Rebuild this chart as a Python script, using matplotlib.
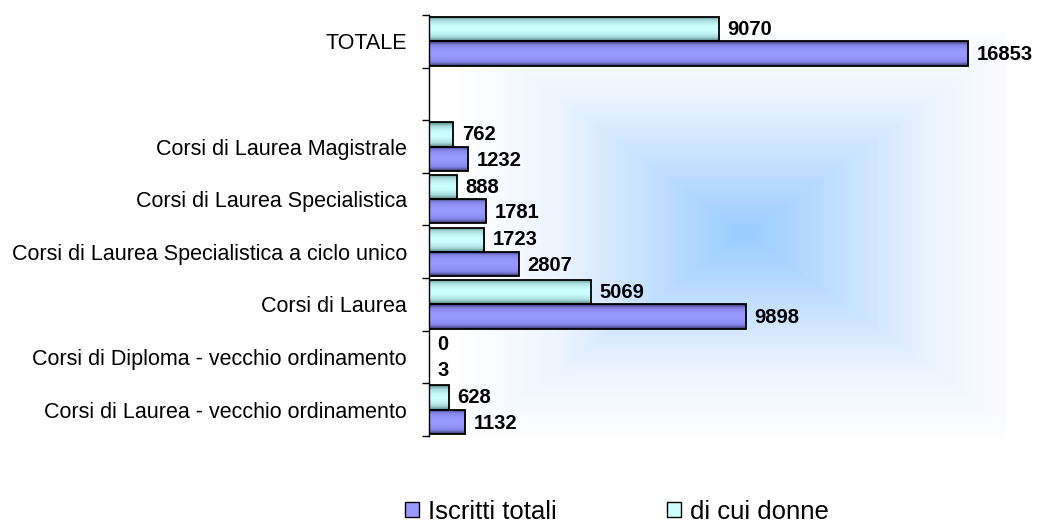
import numpy as np
import matplotlib.pyplot as plt
from matplotlib.patches import Patch
from matplotlib.colors import LinearSegmentedColormap

categories = ["Corsi di Laurea - vecchio ordinamento",
              "Corsi di Diploma - vecchio ordinamento",
              "Corsi di Laurea",
              "Corsi di Laurea Specialistica a ciclo unico",
              "Corsi di Laurea Specialistica",
              "Corsi di Laurea Magistrale",
              "",
              "TOTALE"]
iscritti = [1132, 3, 9898, 2807, 1781, 1232, None, 16853]
donne = [628, 0, 5069, 1723, 888, 762, None, 9070]

col_tot = "#9999FF"
col_donne = "#CCFFFF"

plt.rcParams['font.family'] = ['Liberation Sans', 'DejaVu Sans']

fig = plt.figure(figsize=(10.4, 5.3), dpi=100)
ax = fig.add_axes([0.4125, 0.1774, 0.554, 0.7943])

# background gradient (rectangular, from centre, a bit right of the middle)
n = 300
gx, gy = np.meshgrid(np.linspace(0, 1, n), np.linspace(0, 1, n))
t = np.maximum(np.abs(gx - 0.55) / 0.5, np.abs(gy - 0.52) / 0.5)
t = np.clip(t, 0, 1)
bg_cmap = LinearSegmentedColormap.from_list("bg", ["#99CCFF", "#C4E0FF", "#EEF5FF", "#FFFFFF"])
ax.imshow(t, cmap=bg_cmap, extent=[0, 1, 0, 1], transform=ax.transAxes,
          aspect="auto", zorder=0, vmin=0, vmax=1, interpolation="bilinear")

y = np.arange(len(categories))
h = 0.46
tot_vals = [v if v is not None else 0 for v in iscritti]
don_vals = [v if v is not None else 0 for v in donne]
bars_tot = ax.barh(y - h / 2, tot_vals, height=h, color=col_tot, edgecolor="black", linewidth=1.3, zorder=2)
bars_don = ax.barh(y + h / 2, don_vals, height=h, color=col_donne, edgecolor="black", linewidth=1.3, zorder=2)

# cylinder shading inside each bar
grad = np.abs(np.linspace(-1, 1, 64))[:, None]
cm_tot = LinearSegmentedColormap.from_list("t", ["#9999FF", "#8585E8", "#333366"])
cm_don = LinearSegmentedColormap.from_list("d", ["#CCFFFF", "#A8DADA", "#4F7F7F"])
for bars, cm in [(bars_tot, cm_tot), (bars_don, cm_don)]:
    for b in bars:
        if b.get_width() <= 0:
            continue
        x0, y0 = b.get_x(), b.get_y()
        im = ax.imshow(grad ** 1.8, cmap=cm, extent=[x0, x0 + b.get_width(), y0, y0 + b.get_height()],
                       aspect="auto", zorder=2.5, vmin=0, vmax=1)
        im.set_clip_path(b)
        b.set_facecolor("none")
        b.set_zorder(3)

for i in range(len(categories)):
    if iscritti[i] is None:
        continue
    ax.annotate(str(iscritti[i]), (iscritti[i], y[i] - h / 2), xytext=(6, -1), textcoords="offset points",
                va="center", ha="left", fontsize=14.5, fontweight="bold", zorder=4)
    ax.annotate(str(donne[i]), (donne[i], y[i] + h / 2), xytext=(6, 0), textcoords="offset points",
                va="center", ha="left", fontsize=14.5, fontweight="bold", zorder=4)

ax.set_xlim(0, 18000)
ax.set_ylim(-0.5, len(categories) - 0.5)
ax.set_yticks(y)
ax.set_yticklabels(categories, fontsize=15.5)
ax.set_yticks(np.arange(-0.5, len(categories)), minor=True)
ax.tick_params(axis="y", which="major", length=0, pad=16)
ax.tick_params(axis="y", which="minor", length=5, width=1, direction="out")
ax.set_xticks([])
for s in ["top", "right", "bottom"]:
    ax.spines[s].set_visible(False)
ax.spines["left"].set_linewidth(1)

handles = [Patch(facecolor=col_tot, edgecolor="black", label="Iscritti totali"),
           Patch(facecolor=col_donne, edgecolor="black", label="di cui donne")]
fig.legend(handles=handles, loc="lower center", bbox_to_anchor=(0.593, -0.032), ncol=2,
           frameon=False, fontsize=18.5, handlelength=0.55, handleheight=0.55,
           handletextpad=0.35, columnspacing=4.3)

fig.savefig("out.png", dpi=100)
